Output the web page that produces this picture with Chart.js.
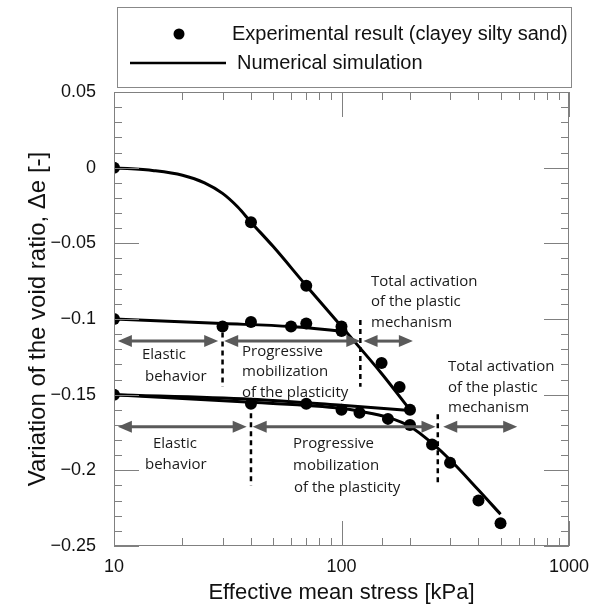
<!DOCTYPE html>
<html>
<head>
<meta charset="utf-8">
<style>
  html, body { margin: 0; padding: 0; background: #fff; }
</style>
<script src="https://cdn.jsdelivr.net/npm/chart.js@4.4.1/dist/chart.umd.min.js"></script>
</head>
<body>
<canvas id="voidChart" width="601" height="609"></canvas>
<script>
// experimental points (clayey silty sand)
const expStress = [10, 40, 70, 100,
                   10, 30, 40, 60, 70, 100, 150, 180, 200,
                   10, 40, 70, 100, 120, 160, 200, 250, 300, 400, 500];
const expVoid   = [0, -0.036, -0.078, -0.105,
                   -0.1, -0.105, -0.102, -0.105, -0.103, -0.108, -0.129, -0.145, -0.16,
                   -0.15, -0.156, -0.156, -0.16, -0.162, -0.166, -0.17, -0.183, -0.195, -0.22, -0.235];

// numerical simulation curves
const simLoadStress = [10, 15, 20, 25, 30, 35, 40, 50, 70, 100, 150, 200];
const simLoadVoid   = [0, -0.002, -0.005, -0.01, -0.017, -0.026, -0.036, -0.052, -0.078, -0.105, -0.136, -0.16];
const simUnload1Stress = [10, 30, 60, 100];
const simUnload1Void   = [-0.1, -0.103, -0.105, -0.108];
const simUnload2Stress = [10, 40, 100, 200];
const simUnload2Void   = [-0.15, -0.153, -0.157, -0.1605];
const simReloadStress = [10, 40, 100, 120, 160, 200, 250, 300, 400, 500];
const simReloadVoid   = [-0.15, -0.155, -0.159, -0.161, -0.165, -0.171, -0.182, -0.193, -0.213, -0.229];

// annotations: arrows [from, to] at a void ratio level, dashed limits
const arrowLevels = [-0.1146, -0.1712];
const arrowSpans = [
  [[10.4, 28.7], [30.5, 121], [125, 206]],
  [[10.4, 38.3], [40.7, 259], [280, 592]]
];
const limitStress = [30, 121, 40, 265];
const limitTop    = [-0.109, -0.1007, -0.1623, -0.163];
const limitBottom = [-0.1447, -0.1447, -0.21, -0.21];

const xTickLabels = [10, 100, 1000];

function pts(xs, ys) { return xs.map((x, i) => ({ x: x, y: ys[i] })); }

const simStyle = {
  showLine: true, borderColor: '#000', borderWidth: 3, pointRadius: 0,
  cubicInterpolationMode: 'monotone', fill: false
};

const overlay = {
  id: 'overlay',
  afterDatasetsDraw(chart) {
    const ctx = chart.ctx, a = chart.chartArea;
    const xs = chart.scales.x, ys = chart.scales.y;
    ctx.save();

    // frame + inner ticks
    ctx.strokeStyle = '#808080';
    ctx.lineWidth = 1;
    ctx.strokeRect(a.left + 0.5, a.top + 0.5, a.right - a.left - 1, a.bottom - a.top - 1);
    ctx.beginPath();
    xs.ticks.forEach(t => {
      const px = Math.round(xs.getPixelForValue(t.value)) + 0.5;
      const lg = Math.log10(t.value);
      const len = Math.abs(lg - Math.round(lg)) < 1e-6 ? 25 : 8;
      ctx.moveTo(px, a.bottom); ctx.lineTo(px, a.bottom - len);
      ctx.moveTo(px, a.top); ctx.lineTo(px, a.top + len);
    });
    ys.ticks.forEach(t => {
      const py = Math.round(ys.getPixelForValue(t.value)) + 0.5;
      const len = Math.round(t.value * 100) % 5 === 0 ? 25 : 8;
      ctx.moveTo(a.left, py); ctx.lineTo(a.left + len, py);
      ctx.moveTo(a.right, py); ctx.lineTo(a.right - len, py);
    });
    ctx.stroke();

    // dashed limits
    ctx.strokeStyle = '#000';
    ctx.lineWidth = 2.5;
    ctx.setLineDash([5, 4]);
    limitStress.forEach((s, i) => {
      const px = xs.getPixelForValue(s);
      ctx.beginPath();
      ctx.moveTo(px, ys.getPixelForValue(limitTop[i]));
      ctx.lineTo(px, ys.getPixelForValue(limitBottom[i]));
      ctx.stroke();
    });
    ctx.setLineDash([]);

    // double arrows
    ctx.strokeStyle = '#5a5a5a';
    ctx.fillStyle = '#5a5a5a';
    ctx.lineWidth = 3;
    const head = 14, hw = 6;
    arrowLevels.forEach((lv, k) => {
      const py = ys.getPixelForValue(lv);
      arrowSpans[k].forEach(sp => {
        const x1 = xs.getPixelForValue(sp[0]), x2 = xs.getPixelForValue(sp[1]);
        ctx.beginPath();
        ctx.moveTo(x1 + head - 2, py); ctx.lineTo(x2 - head + 2, py);
        ctx.stroke();
        ctx.beginPath();
        ctx.moveTo(x1, py); ctx.lineTo(x1 + head, py - hw); ctx.lineTo(x1 + head, py + hw);
        ctx.closePath(); ctx.fill();
        ctx.beginPath();
        ctx.moveTo(x2, py); ctx.lineTo(x2 - head, py - hw); ctx.lineTo(x2 - head, py + hw);
        ctx.closePath(); ctx.fill();
      });
    });

    // annotation texts
    ctx.fillStyle = '#1a1a1a';
    ctx.font = '15px "Open Sans"';
    ctx.textAlign = 'left';
    ctx.textBaseline = 'middle';
    const notes = [
      ['Elastic', 142, 355], ['behavior', 145, 377],
      ['Progressive', 242, 352], ['mobilization', 242, 372], ['of the plasticity', 242, 393],
      ['Total activation', 371, 282], ['of the plastic', 371, 302], ['mechanism', 371, 323],
      ['Elastic', 153, 444], ['behavior', 145, 465],
      ['Progressive', 293, 444], ['mobilization', 293, 466], ['of the plasticity', 294, 488],
      ['Total activation', 448, 367], ['of the plastic', 448, 388], ['mechanism', 448, 408]
    ];
    notes.forEach(n => ctx.fillText(n[0], n[1], n[2]));

    // legend box
    ctx.strokeStyle = '#888';
    ctx.lineWidth = 1;
    ctx.strokeRect(117.5, 7.5, 454, 80);
    ctx.fillStyle = '#000';
    ctx.beginPath(); ctx.arc(179, 34, 5.5, 0, Math.PI * 2); ctx.fill();
    ctx.strokeStyle = '#000';
    ctx.lineWidth = 2.5;
    ctx.beginPath(); ctx.moveTo(130, 63); ctx.lineTo(226, 63); ctx.stroke();
    ctx.fillStyle = '#111';
    ctx.font = '20px "Liberation Sans", Arial';
    ctx.fillText('Experimental result (clayey silty sand)', 232, 34);
    ctx.fillText('Numerical simulation', 237, 63);
    ctx.restore();
  }
};

new Chart(document.getElementById('voidChart'), {
  type: 'scatter',
  data: {
    datasets: [
      Object.assign({ label: 'Numerical simulation', data: pts(simLoadStress, simLoadVoid) }, simStyle),
      Object.assign({ label: 'unload 1', data: pts(simUnload1Stress, simUnload1Void) }, simStyle),
      Object.assign({ label: 'unload 2', data: pts(simUnload2Stress, simUnload2Void) }, simStyle),
      Object.assign({ label: 'reload', data: pts(simReloadStress, simReloadVoid) }, simStyle),
      {
        label: 'Experimental result (clayey silty sand)',
        data: pts(expStress, expVoid),
        pointRadius: 6, pointBackgroundColor: '#000', pointBorderWidth: 0, showLine: false
      }
    ]
  },
  options: {
    responsive: false,
    animation: false,
    devicePixelRatio: 1,
    layout: { padding: { top: 92, right: 32, left: 0, bottom: 0 } },
    plugins: { legend: { display: false }, tooltip: { enabled: false } },
    scales: {
      x: {
        type: 'logarithmic', min: 10, max: 1000,
        grid: { display: false, drawTicks: false },
        border: { display: false },
        afterFit: s => { s.height = 63; },
        ticks: {
          autoSkip: false, maxRotation: 0, minRotation: 0, padding: 10, color: '#111',
          font: { family: '"Liberation Sans", Arial', size: 18 },
          callback: v => xTickLabels.includes(v) ? String(v) : ''
        },
        title: {
          display: true, text: 'Effective mean stress [kPa]', color: '#111',
          font: { family: '"Liberation Sans", Arial', size: 22 },
          padding: { top: 0, bottom: 3 }
        }
      },
      y: {
        min: -0.25, max: 0.05,
        grid: { display: false, drawTicks: false },
        border: { display: false },
        afterFit: s => { s.width = 114; },
        ticks: {
          stepSize: 0.01, autoSkip: false, padding: 18, color: '#111',
          font: { family: '"Liberation Sans", Arial', size: 18 },
          callback: v => {
            const c = Math.round(v * 100);
            if (c % 5 !== 0) return '';
            return c < 0 ? '\u2212' + String(-c / 100) : String(c / 100);
          }
        },
        title: {
          display: true, text: 'Variation of the void ratio, \u0394e [-]', color: '#111',
          font: { family: '"Liberation Sans", Arial', size: 24 },
          padding: { top: 24, bottom: 0 }
        }
      }
    }
  },
  plugins: [overlay]
});
</script>
</body>
</html>
